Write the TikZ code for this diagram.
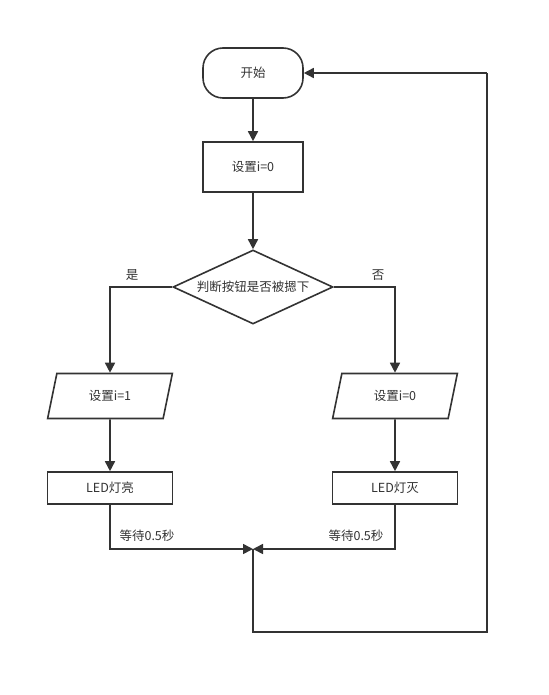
\documentclass[tikz,border=0pt]{standalone}
\usepackage{fontspec}
\setmainfont{Noto Sans CJK SC}
\usetikzlibrary{shapes.geometric,arrows.meta}
\definecolor{ln}{HTML}{333333}
\begin{document}
\begin{tikzpicture}[x=1pt,y=-1pt,
  every node/.style={font=\fontsize{12.5}{14}\selectfont, text=ln},
  base/.style={draw=ln, line width=1.6pt, inner sep=0pt},
  term/.style={base, rounded corners=20pt, minimum width=100pt, minimum height=50pt},
  proc/.style={base, minimum width=100pt, minimum height=50pt},
  io/.style={base, trapezium, trapezium left angle=72, trapezium right angle=108, minimum width=125pt, minimum height=45pt, trapezium stretches=true},
  box/.style={base, minimum width=125pt, minimum height=32pt},
  dec/.style={base, diamond, minimum width=160pt, minimum height=74pt, aspect=2.16},
  flow/.style={draw=ln, line width=1.6pt, -{Triangle[length=10pt,width=10pt]}},
  plain/.style={draw=ln, line width=1.6pt},
  lbl/.style={inner sep=1pt}
]
\useasboundingbox (0,0) rectangle (548,695);
\fill[white] (0,0) rectangle (548,695);
\node[term] (start) at (253,73) {开始};
\node[proc] (set0) at (253,167) {设置i=0};
\node[dec] (dec) at (253,287) {判断按钮是否被摁下};
\node[io] (seta) at (110,396) {设置i=1};
\node[io] (setb) at (395,396) {设置i=0};
\node[box] (leda) at (110,488) {LED灯亮};
\node[box] (ledb) at (395,488) {LED灯灭};
\coordinate (m) at (253,549);
\coordinate (la) at (110,549);
\coordinate (lb) at (395,549);
\coordinate (b1) at (253,632);
\coordinate (b2) at (487,632);
\coordinate (b3) at (487,73);
\draw[flow] (start) -- (set0);
\draw[flow] (set0) -- (dec);
\draw[flow] (dec.west) -| (seta.north);
\draw[flow] (dec.east) -| (setb.north);
\draw[flow] (seta) -- (leda);
\draw[flow] (setb) -- (ledb);
\draw[flow] (leda.south) -- (la) -- (m);
\draw[flow] (ledb.south) -- (lb) -- (m);
\draw[plain] (m) -- (b1) -- (b2) -- (b3);
\draw[flow] (b3) -- (start.east);
\node[lbl] at (132,275) {是};
\node[lbl] at (378,275) {否};
\node[lbl] at (147,536) {等待0.5秒};
\node[lbl] at (356,536) {等待0.5秒};
\end{tikzpicture}
\end{document}
